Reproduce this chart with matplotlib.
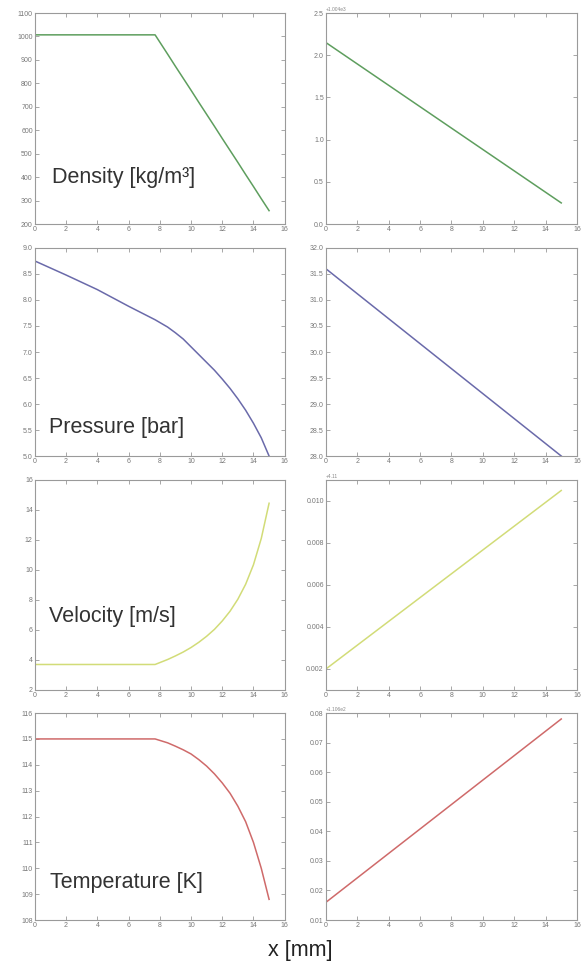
import matplotlib.pyplot as plt
import numpy as np

plt.rcParams['font.family'] = ['Liberation Sans', 'DejaVu Sans']

# x positions [mm]
x_flat = [0, 2, 4, 6, 7.7]
x_tail = [8.5, 9, 9.5, 10, 10.5, 11, 11.5, 12, 12.5, 13, 13.5, 14, 14.5, 15]
x_left = x_flat + x_tail
x_line = [0, 15]

# left column (curves)
density = [1007, 1007, 1007, 1007, 1007,
           925, 873, 822, 771, 719, 668, 617, 565, 514, 463, 411, 360, 308, 257]
pressure = [8.75, 8.48, 8.2, 7.88, 7.62,
            7.48, 7.37, 7.25, 7.1, 6.95, 6.8, 6.65, 6.48, 6.3, 6.1, 5.88, 5.63, 5.35, 5.0]
velocity = [3.7, 3.7, 3.7, 3.7, 3.7,
            4.03, 4.27, 4.53, 4.83, 5.18, 5.58, 6.04, 6.6, 7.25, 8.05, 9.05, 10.35, 12.1, 14.45]
temperature = [115.0, 115.0, 115.0, 115.0, 115.0,
               114.85, 114.72, 114.58, 114.42, 114.2, 113.95, 113.65, 113.3, 112.9,
               112.4, 111.8, 111.0, 110.0, 108.8]

# right column (straight lines, values relative to offset)
density_r = [2.15, 0.25]
pressure_r = [31.6, 28.0]
velocity_r = [0.002, 0.0105]
temperature_r = [0.016, 0.078]

labels = ["Density [kg/m\u00b3]", "Pressure [bar]", "Velocity [m/s]", "Temperature [K]"]
offsets = ["+1.004e3", "", "+4.11", "+1.106e2"]
colors = ["#5e9e5e", "#6a6aaa", "#d2dc78", "#cf6a6a"]

left_y = [(200, 1100, 100, "%d"), (5.0, 9.0, 0.5, "%.1f"), (2, 16, 2, "%d"), (108, 116, 1, "%d")]
right_y = [(0.0, 2.5, 0.5, "%.1f"), (28.0, 32.0, 0.5, "%.1f"), (0.001, 0.011, 0.002, "%.3f"), (0.01, 0.08, 0.01, "%.2f")]
right_ticks_start = [0.0, 28.0, 0.002, 0.01]

left_series = [density, pressure, velocity, temperature]
right_series = [density_r, pressure_r, velocity_r, temperature_r]

# row boxes in figure fraction (bottom, height)
rows = [(0.770, 0.2166), (0.5318, 0.2136), (0.2916, 0.2156), (0.0554, 0.2125)]
text_pos = [(0.07, 0.22), (0.056, 0.135), (0.056, 0.35), (0.06, 0.18)]

fig = plt.figure(figsize=(5.81, 9.74), dpi=100)


def style_axis(ax):
    ax.set_xlim(0, 16)
    ax.set_xticks(np.arange(0, 17, 2))
    ax.tick_params(direction='in', top=True, right=True, labelsize=5,
                   labelcolor='#777777', color='#999999', length=3, width=0.6, pad=1.5)
    for s in ax.spines.values():
        s.set_color('#9a9a9a')
        s.set_linewidth(0.8)


for i in range(4):
    bottom, height = rows[i]
    # left panel
    ax = fig.add_axes([0.060, bottom, 0.430, height])
    ax.plot(x_left, left_series[i], color=colors[i], lw=1.1)
    lo, hi, step, fmt = left_y[i]
    ax.set_ylim(lo, hi)
    ax.set_yticks(np.arange(lo, hi + step / 2, step))
    ax.yaxis.set_major_formatter(plt.FormatStrFormatter(fmt))
    style_axis(ax)
    ax.text(text_pos[i][0], text_pos[i][1], labels[i], transform=ax.transAxes,
            fontsize=15.5, color='#333333', va='center', ha='left')

    # right panel
    ax2 = fig.add_axes([0.561, bottom, 0.432, height])
    ax2.plot(x_line, right_series[i], color=colors[i], lw=1.1)
    lo, hi, step, fmt = right_y[i]
    ax2.set_ylim(lo, hi)
    ax2.set_yticks(np.arange(right_ticks_start[i], hi + step / 2, step))
    ax2.yaxis.set_major_formatter(plt.FormatStrFormatter(fmt))
    style_axis(ax2)
    if offsets[i]:
        ax2.text(0.0, 1.005, offsets[i], transform=ax2.transAxes, fontsize=3.5,
                 color='#888888', va='bottom', ha='left')

fig.text(0.516, 0.024, "x [mm]", fontsize=15.5, color='#222222', ha='center', va='center')

fig.savefig("out.png", dpi=100)
